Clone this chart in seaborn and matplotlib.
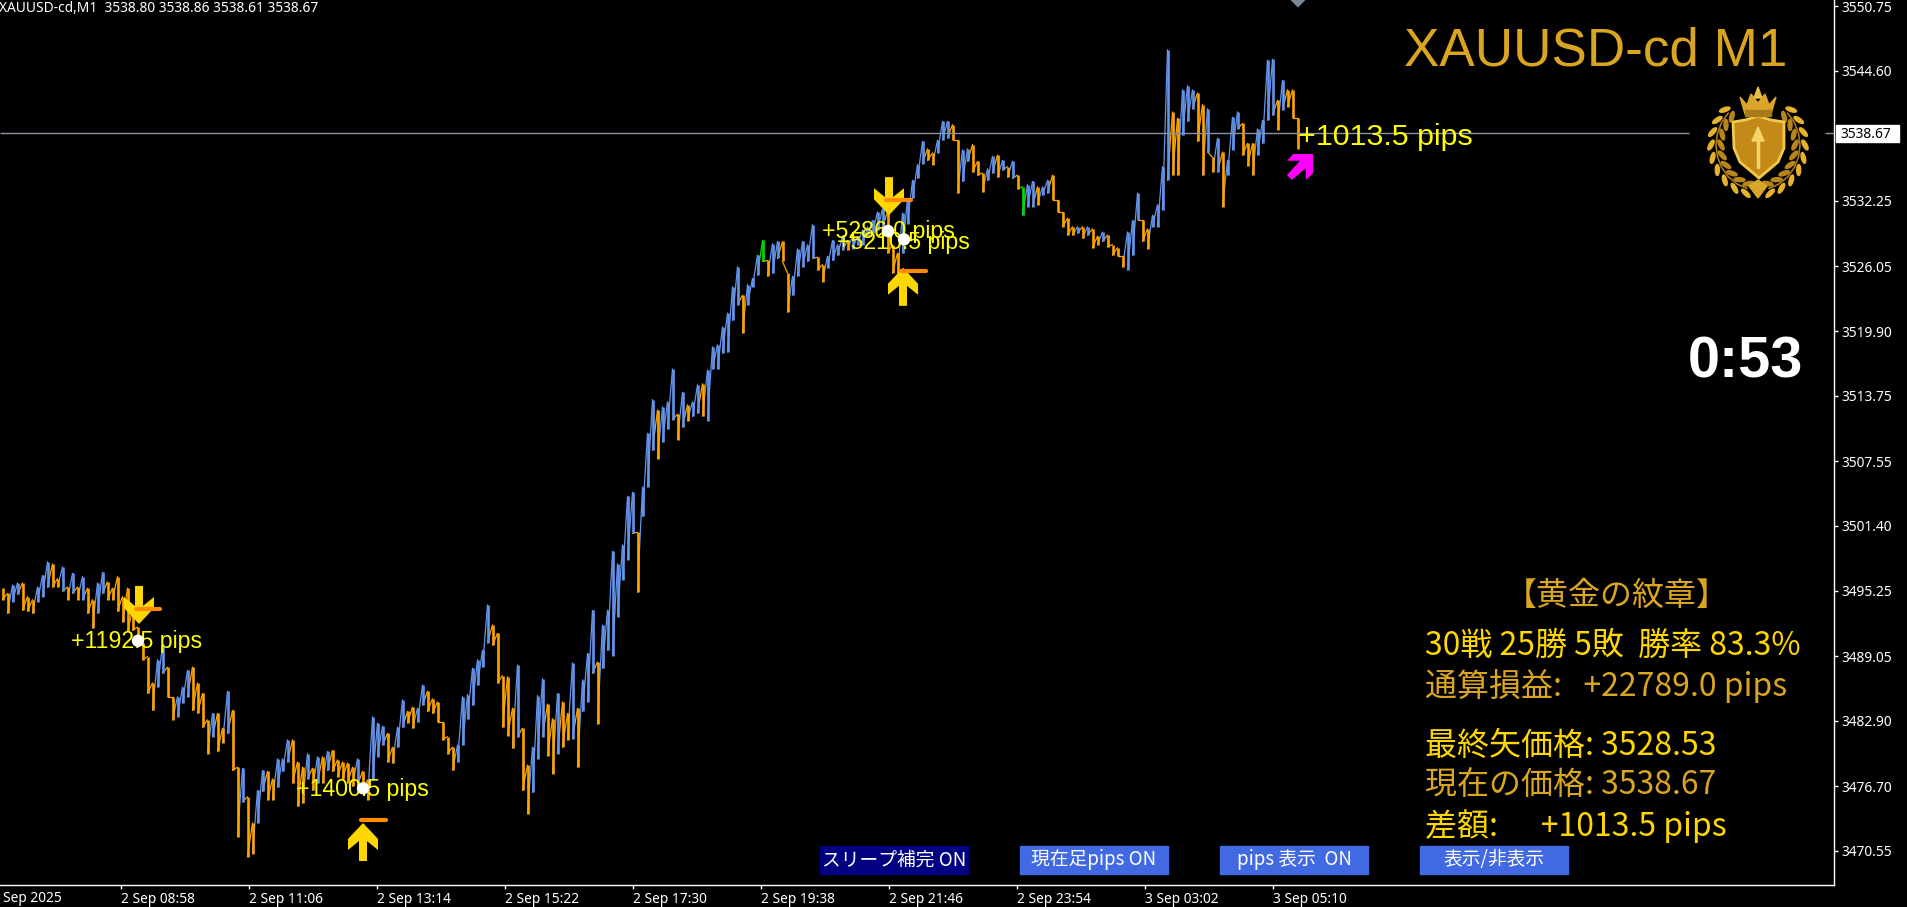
import numpy as np
import pandas as pd
import matplotlib
matplotlib.use('Agg')
import matplotlib.pyplot as plt
import matplotlib.patches as mpatches
from matplotlib.markers import MarkerStyle
from matplotlib.path import Path
import seaborn as sns

high_prices = [
    3495.5, 3495.0, 3495.8, 3496.0, 3496.0, 3494.7, 3494.4, 3495.6, 3496.7, 3498.0, 3497.8, 3496.4,
    3497.5, 3495.6, 3496.9, 3495.6, 3496.6, 3495.5, 3494.4, 3496.0, 3497.0, 3496.1, 3495.5, 3496.6,
    3494.7, 3495.5, 3493.4, 3491.8, 3490.3, 3489.0, 3486.5, 3488.7, 3490.1, 3488.0, 3485.2, 3485.2,
    3486.1, 3487.7, 3488.0, 3486.5, 3485.5, 3483.0, 3483.6, 3483.6, 3482.2, 3485.7, 3483.9, 3478.5,
    3478.4, 3475.7, 3473.2, 3476.3, 3478.2, 3478.1, 3477.4, 3479.3, 3479.3, 3481.1, 3481.1, 3479.0,
    3478.5, 3479.8, 3478.4, 3479.5, 3479.5, 3480.0, 3480.1, 3479.2, 3479.0, 3478.9, 3478.5, 3479.3,
    3478.1, 3477.3, 3483.3, 3482.7, 3482.4, 3481.7, 3480.4, 3482.3, 3484.9, 3483.8, 3484.2, 3484.1,
    3486.3, 3485.7, 3485.0, 3484.7, 3482.8, 3481.4, 3480.4, 3480.6, 3485.2, 3485.4, 3487.9, 3488.7,
    3489.6, 3493.9, 3492.0, 3491.2,
    3487.2, 3487.1, 3484.1, 3488.2, 3482.2, 3478.7, 3480.4, 3485.3, 3486.9, 3484.5, 3483.1, 3485.5,
    3484.7, 3483.6, 3488.4, 3484.1, 3486.8, 3489.3, 3493.4, 3488.5, 3492.0, 3493.4, 3499.0, 3497.8,
    3499.6, 3504.2, 3504.6, 3500.8, 3505.1, 3510.2, 3513.4, 3512.4, 3512.7, 3513.2, 3516.3, 3512.0,
    3514.1, 3512.9, 3513.2, 3514.8, 3514.9, 3516.2, 3518.4, 3518.6, 3520.3, 3521.6, 3524.1, 3526.0,
    3523.3, 3524.3, 3524.9, 3527.1, 3528.5, 3526.6, 3528.2, 3528.4, 3528.4, 3525.4, 3525.1, 3527.7,
    3528.4, 3528.1, 3530.0, 3526.9, 3526.2, 3527.0, 3528.5, 3528.1, 3528.9, 3528.5, 3528.9, 3528.9,
    3529.5, 3529.8, 3530.4, 3531.2, 3531.5, 3531.2, 3528.1, 3527.3,
    3531.1, 3532.5, 3534.2, 3535.7, 3537.9, 3537.2, 3536.8, 3538.0, 3539.8, 3539.8, 3539.5, 3538.0,
    3537.1, 3537.2, 3537.6, 3536.0, 3534.9, 3535.3, 3536.5, 3536.6, 3536.1, 3535.5, 3536.0, 3534.7,
    3533.6, 3533.8, 3534.1, 3533.6, 3533.6, 3534.2, 3534.7, 3532.3, 3531.2, 3530.6, 3529.8, 3529.8,
    3529.8, 3529.8, 3529.6, 3528.9, 3529.3, 3529.0, 3528.1, 3527.8, 3527.0, 3529.3, 3530.4, 3533.0,
    3530.4, 3529.6, 3530.9, 3531.9, 3535.5, 3546.6, 3540.7, 3540.1, 3542.8, 3543.2, 3542.8, 3542.5,
    3541.4, 3541.0, 3536.4, 3538.2, 3536.9, 3536.1, 3540.2, 3540.7, 3539.6, 3537.7, 3537.7, 3539.1,
    3539.9, 3545.6, 3545.7, 3541.8, 3543.7, 3542.8, 3542.8, 3540.1,
]
low_prices = [
    3494.4, 3493.1, 3494.2, 3494.9, 3493.4, 3493.3, 3493.1, 3494.2, 3494.7, 3495.6, 3495.6, 3495.6,
    3495.2, 3494.4, 3495.0, 3494.4, 3494.4, 3493.1, 3491.7, 3493.1, 3495.0, 3494.4, 3494.4, 3493.3,
    3492.3, 3491.4, 3491.5, 3490.0, 3488.7, 3485.5, 3483.9, 3486.1, 3487.4, 3485.2, 3483.0, 3483.3,
    3484.6, 3485.2, 3483.9, 3483.6, 3482.3, 3479.8, 3481.4, 3480.0, 3480.8, 3481.7, 3478.2, 3471.9,
    3475.2, 3470.0, 3470.3, 3473.2, 3476.2, 3475.4, 3475.4, 3476.6, 3478.1, 3479.0, 3477.0, 3474.8,
    3475.1, 3477.4, 3476.3, 3477.0, 3477.0, 3478.2, 3478.1, 3477.6, 3477.4, 3477.0, 3476.7, 3476.8,
    3476.3, 3475.4, 3477.3, 3479.5, 3480.6, 3479.0, 3478.9, 3480.4, 3482.3, 3482.7, 3482.2, 3482.8,
    3484.4, 3483.8, 3483.6, 3482.8, 3481.1, 3479.8, 3478.2, 3479.0, 3480.6, 3483.1, 3484.4, 3486.3,
    3488.0, 3490.3, 3490.1, 3486.5,
    3482.3, 3481.5, 3480.3, 3481.4, 3476.3, 3474.1, 3476.1, 3479.3, 3481.4, 3479.6, 3477.9, 3479.8,
    3480.4, 3481.1, 3481.2, 3478.5, 3483.8, 3484.7, 3487.4, 3482.6, 3487.9, 3489.6, 3489.1, 3492.8,
    3496.3, 3498.2, 3500.7, 3495.1, 3502.3, 3505.1, 3508.6, 3507.8, 3509.4, 3510.6, 3511.5, 3509.6,
    3510.8, 3511.4, 3511.8, 3512.1, 3511.8, 3511.4, 3516.3, 3516.3, 3517.8, 3517.9, 3520.9, 3522.4,
    3519.7, 3522.4, 3524.1, 3525.2, 3526.5, 3525.1, 3525.4, 3526.8, 3526.5, 3521.7, 3523.3, 3525.1,
    3526.0, 3526.5, 3526.8, 3525.7, 3524.6, 3525.9, 3526.6, 3527.1, 3527.6, 3527.6, 3527.7, 3528.1,
    3528.1, 3528.9, 3529.2, 3529.5, 3529.8, 3527.3, 3525.4, 3525.1,
    3527.3, 3530.1, 3532.5, 3534.4, 3535.8, 3536.1, 3535.7, 3536.8, 3538.0, 3538.2, 3538.0, 3533.0,
    3534.1, 3536.0, 3535.0, 3534.7, 3533.1, 3534.2, 3534.9, 3534.5, 3535.2, 3534.5, 3534.4, 3533.4,
    3530.9, 3531.7, 3531.7, 3531.9, 3532.8, 3533.0, 3532.3, 3531.2, 3529.8, 3529.0, 3529.0, 3529.2,
    3528.7, 3529.0, 3527.8, 3528.1, 3528.4, 3527.9, 3527.1, 3527.0, 3526.0, 3525.7, 3527.1, 3530.4,
    3528.4, 3527.7, 3529.8, 3529.8, 3531.4, 3534.2, 3534.7, 3534.7, 3538.5, 3539.8, 3541.0, 3537.9,
    3534.7, 3536.9, 3535.0, 3535.0, 3531.7, 3534.7, 3537.1, 3539.1, 3536.6, 3535.6, 3534.7, 3536.6,
    3537.7, 3539.9, 3540.4, 3539.0, 3540.9, 3541.2, 3540.1, 3537.2,
]
green_bars = [152, 204]
bar_step = 5

y_ticks = [3550.75, 3544.60, 3532.25, 3526.05, 3519.90, 3513.75, 3507.55, 3501.40,
           3495.25, 3489.05, 3482.90, 3476.70, 3470.55]
x_tick_pos = [121, 249, 377, 505, 633, 761, 889, 1017, 1145, 1273]
x_tick_labels = ['2 Sep 08:58', '2 Sep 11:06', '2 Sep 13:14', '2 Sep 15:22', '2 Sep 17:30',
                 '2 Sep 19:38', '2 Sep 21:46', '2 Sep 23:54', '3 Sep 03:02', '3 Sep 05:10']
last_price = 3538.67

sell_x, sell_y = [139, 889], [3493.9, 3532.7]
buy_x, buy_y = [363, 903], [3471.4, 3524.1]
dash_x0 = [136, 361, 886, 901]
dash_x1 = [160, 386, 911, 926]
dash_y = [3493.5, 3473.5, 3532.3, 3525.6]
dot_x = [138, 363, 888, 904]
dot_y = [3490.5, 3476.5, 3529.4, 3528.6]
pips_text = ['+1192.5 pips', '+1400.5 pips', '+5286.0 pips', '+5210.5 pips']
pips_x = [71, 296, 822, 837]
pips_y = [3490.4, 3476.4, 3529.3, 3528.3]

GOLD = '#FFD700'
GOLDENROD = '#DAA520'
JP = ['Noto Sans CJK JP', 'DejaVu Sans']
side_palette = {'up': '#6495ED', 'down': '#FFA500', 'flat': '#00E000'}

# ── Figure setup ──────────────────────────────────────────────────────────────
sns.set_theme(style='dark', rc={'axes.facecolor': 'black', 'figure.facecolor': 'black',
                                'axes.edgecolor': 'white', 'xtick.color': 'white',
                                'ytick.color': 'white', 'axes.grid': False})
plt.rcParams['font.family'] = ['Noto Sans', 'DejaVu Sans']

fig = plt.figure(figsize=(19.07, 9.07), dpi=100)
ax = fig.add_axes([0, 22 / 907, 1834 / 1907, 885 / 907])

# ── Price bars ────────────────────────────────────────────────────────────────
n_bars = len(high_prices)
bar_x = np.arange(n_bars) * bar_step + 2.5
mid = (np.array(high_prices) + np.array(low_prices)) / 2
side = ['up' if i > 0 and mid[i] > mid[i - 1] else 'down' for i in range(n_bars)]
for i in green_bars:
    side[i] = 'flat'

# each bar's high joined back to the previous low, so the trace has no empty gaps
links = pd.DataFrame({
    'minute': np.concatenate([bar_x[:-1], bar_x[1:]]),
    'price': low_prices[:-1] + high_prices[1:],
    'bar': np.tile(np.arange(n_bars - 1), 2),
    'side': side[1:] * 2,
})
sns.lineplot(data=links, x='minute', y='price', units='bar', hue='side', estimator=None, sort=False,
             palette=side_palette, legend=False, linewidth=0.9, ax=ax)

bars = pd.DataFrame({
    'minute': np.tile(bar_x, 2),
    'price': high_prices + low_prices,
    'bar': np.tile(np.arange(n_bars), 2),
    'side': side * 2,
})
sns.lineplot(data=bars, x='minute', y='price', units='bar', hue='side', estimator=None, sort=False,
             palette=side_palette, legend=False, linewidth=1.9, solid_capstyle='butt', ax=ax)

ax.hlines(last_price, 0, 1689, color='#8A94A0', lw=1, zorder=3)
ax.hlines(last_price, 1825, 1834, color='#8A94A0', lw=1, zorder=3)

# ── Signals ───────────────────────────────────────────────────────────────────
down_verts = [(-.21, 1), (.21, 1), (.21, -.05), (.79, .42), (.79, -.16), (0, -1),
              (-.79, -.16), (-.79, .42), (-.21, -.05), (-.21, 1)]
up_verts = [(x, -y) for x, y in down_verts]
ne_verts = [(-.52, 1), (1, 1), (1, -.48), (.45, -1), (.45, -.08), (-.63, -1),
            (-1, -.62), (0, .48), (-1, .48), (-.52, 1)]


def signal_scatter(x, y, verts, size, color):
    sns.scatterplot(x=x, y=y, marker=MarkerStyle(Path(verts, closed=True)), s=size, color=color,
                    edgecolor='none', linewidth=0, zorder=5, legend=False, ax=ax)


signal_scatter(sell_x, sell_y, down_verts, 750, GOLD)
signal_scatter(buy_x, buy_y, up_verts, 750, GOLD)
signal_scatter([1300], [3535.47], ne_verts, 350, '#FF00FF')
ax.hlines(dash_y, dash_x0, dash_x1, color='#FF8C00', lw=3, zorder=6, capstyle='round')
for label, x, y in zip(pips_text, pips_x, pips_y):
    ax.text(x, y, label, color='yellow', fontsize=16.7, family='Liberation Sans',
            va='center', ha='left', zorder=7)
sns.scatterplot(x=dot_x, y=dot_y, s=80, color='white', edgecolor='none', zorder=8, legend=False, ax=ax)
sns.scatterplot(x=[1298], y=[3551.32], s=58, marker='D', color='#778899', edgecolor='none',
                zorder=5, legend=False, ax=ax)
ax.text(1298, 3538.3, '+1013.5 pips', color='yellow', fontsize=21.9, family='Liberation Sans',
        va='center', ha='left', zorder=7)

# ── Axes ──────────────────────────────────────────────────────────────────────
ax.set_xlim(0, 1834)
ax.set_ylim(3467.32, 3551.32)
ax.yaxis.tick_right()
ax.set_yticks(y_ticks, [f'{v:.2f}' for v in y_ticks], fontsize=9.9)
ax.set_xticks(x_tick_pos, x_tick_labels, fontsize=9.9, ha='left')
ax.tick_params(axis='both', length=3, width=1, pad=2, bottom=True, right=True, colors='white')
ax.set_xlabel('')
ax.set_ylabel('')
for name in ('top', 'left'):
    ax.spines[name].set_visible(False)
for name in ('bottom', 'right'):
    ax.spines[name].set_color('white')
    ax.spines[name].set_linewidth(1)

# ── Overlay in screen pixels: texts, buttons, emblem ──────────────────────────
ov = fig.add_axes([0, 0, 1, 1], zorder=10)
ov.set_xlim(0, 1907)
ov.set_ylim(907, 0)
ov.axis('off')

ov.add_patch(mpatches.Rectangle((1836, 125), 63, 17, color='white'))
ov.text(1840, 134, f'{last_price:.2f}', color='black', fontsize=9.9, va='center')
ov.text(-1, 9, 'XAUUSD-cd,M1  3538.80 3538.86 3538.61 3538.67', color='white', fontsize=9.9, va='center')
ov.text(3, 898, 'Sep 2025', color='white', fontsize=9.9, va='center')

ov.text(1404, 52, 'XAUUSD-cd M1', color=GOLDENROD, fontsize=38.2, family='Liberation Sans', va='center')
ov.text(1688, 362, '0:53', color='white', fontsize=41.5, weight='bold', family='Liberation Sans', va='center')

panel_lines = [('【黄金の紋章】', 1617, 596, GOLDENROD, 'center'),
               ('30戦 25勝 5敗  勝率 83.3%', 1425, 646, GOLD, 'left'),
               ('通算損益:   +22789.0 pips', 1425, 686, GOLDENROD, 'left'),
               ('最終矢価格: 3528.53', 1425, 746, GOLD, 'left'),
               ('現在の価格: 3538.67', 1425, 786, GOLDENROD, 'left'),
               ('差額:      +1013.5 pips', 1425, 826, GOLD, 'left')]
for label, x, y, color, align in panel_lines:
    ov.text(x, y, label, color=color, fontsize=23, family=JP, va='center', ha=align)

button_labels = ['スリープ補完 ON', '現在足pips ON', 'pips 表示  ON', '表示/非表示']
button_colors = ['#000080', '#4169E1', '#4169E1', '#4169E1']
for k, (label, color) in enumerate(zip(button_labels, button_colors)):
    left = 820 + 200 * k
    ov.add_patch(mpatches.Rectangle((left, 846), 148, 28, color=color))
    ov.text(left + 74, 860, label, color='white', fontsize=13.5, family=JP, va='center', ha='center')

# emblem: laurel branches, shield, crown, arrow
cx = 1758
for sgn in (-1, 1):
    thetas = np.radians(np.linspace(15, 135, 9))
    ov.plot(cx + sgn * 42 * np.sin(thetas), 145 + 45 * np.cos(thetas), color='#A87A18', lw=1.2)
    for th in thetas:
        lx = cx + sgn * 42 * np.sin(th)
        ly = 145 + 45 * np.cos(th)
        tangent = np.degrees(np.arctan2(-45 * np.sin(th), sgn * 42 * np.cos(th)))
        for off, turn, tone in ((1, 28, '#E6B22E'), (-1, -28, '#B8861B')):
            ov.add_patch(mpatches.Ellipse((lx + sgn * off * 5 * np.sin(th), ly + off * 5 * np.cos(th)), 11, 4,
                                          angle=tangent + sgn * turn * -1, color=tone))
shield = [(1733, 122), (1745, 120), (1758, 116), (1771, 120), (1784, 122), (1784, 148),
          (1778, 162), (1759, 178), (1740, 162), (1734, 148)]
ov.add_patch(mpatches.Polygon(shield, closed=True, facecolor='#C48A18', edgecolor='#F2C94C', lw=2))
ov.plot([1758, 1758], [167, 132], color='#F2D56B', lw=2.5)
ov.add_patch(mpatches.Polygon([(1758, 127), (1752, 141), (1764, 141)], closed=True, color='#F2D56B'))
crown = [(1740, 97), (1747, 105), (1751, 94), (1758, 103), (1765, 94), (1769, 105), (1776, 97),
         (1771, 114), (1745, 114)]
ov.add_patch(mpatches.Polygon(crown, closed=True, color='#D9A52A'))
ov.add_patch(mpatches.Rectangle((1745, 110), 26, 6, color='#A87A18'))
ov.add_patch(mpatches.Polygon([(1758, 87), (1754, 98), (1762, 98)], closed=True, color='#E9BC45'))
ov.add_patch(mpatches.Polygon([(1758, 198), (1749, 186), (1758, 180), (1767, 186)], closed=True, color='#D9A52A'))

fig.savefig('out.png', dpi=100, facecolor='black')
print('[INFO] Saved out.png')
